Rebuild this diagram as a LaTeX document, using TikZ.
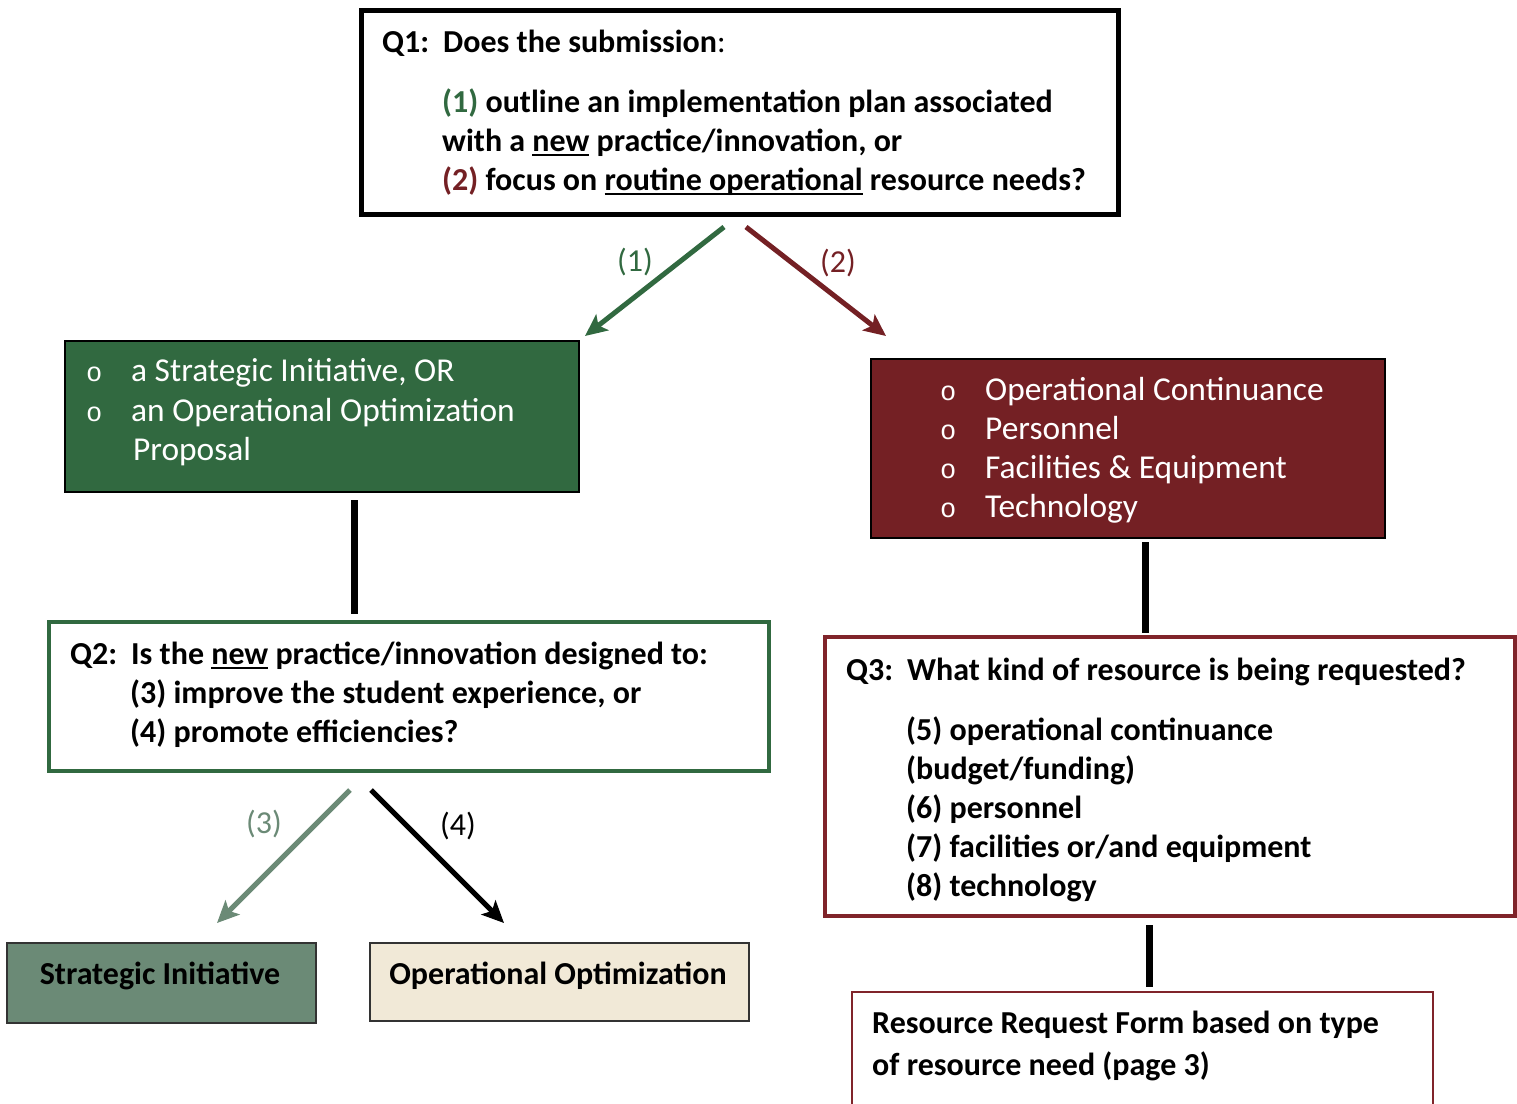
\documentclass[tikz,border=0pt]{standalone}
\usepackage{fontspec}
\setmainfont{Carlito}
\newfontfamily\bulfont{Liberation Mono}
\usetikzlibrary{arrows.meta}
\definecolor{dgreen}{RGB}{49,105,64}
\definecolor{dred}{RGB}{116,32,36}
\definecolor{bred}{RGB}{128,36,42}
\definecolor{sgreen}{RGB}{107,138,118}
\definecolor{cream}{RGB}{241,233,215}
\newcommand{\qlab}[1]{\makebox[61pt][l]{#1}}
\newcommand{\bul}{\makebox[45pt][l]{\bulfont\fontsize{27}{27}\selectfont o}}
\newcommand{\myul}[1]{\setbox0\hbox{#1}\rlap{\rule[-5pt]{\wd0}{2.2pt}}\box0\relax}
\begin{document}
\begin{tikzpicture}[x=1pt,y=-1pt,
  txt/.style={inner sep=0pt, anchor=base west, font=\fontsize{32}{39}\selectfont\bfseries},
  wtxt/.style={inner sep=0pt, anchor=base west, text=white, font=\fontsize{33.4}{39}\selectfont},
  lab/.style={inner sep=0pt, anchor=center, font=\fontsize{32}{39}\selectfont},
  box/.style={draw, anchor=north west, inner sep=0pt},
  arr/.style={line width=5pt, -{Stealth[length=22pt,width=20pt,inset=5pt]}},
  vline/.style={line width=7pt}]
\useasboundingbox (0,0) rectangle (1517,1103);

% boxes
\node[box, line width=5pt, minimum width=757pt, minimum height=204pt] (q1) at (359,8) {};
\node[box, line width=2pt, fill=dgreen, minimum width=514pt, minimum height=151pt] (gbox) at (64,340) {};
\node[box, line width=2pt, fill=dred, minimum width=514pt, minimum height=179pt] (rbox) at (870,358) {};
\node[box, line width=4pt, draw=dgreen, minimum width=720pt, minimum height=149pt] (q2) at (47,620) {};
\node[box, line width=4pt, draw=bred, minimum width=690pt, minimum height=279pt] (q3) at (823,635) {};
\node[box, line width=2pt, fill=sgreen, draw=black!80, minimum width=309pt, minimum height=80pt] (sbox) at (6,942) {};
\node[box, line width=2pt, fill=cream, draw=black!80, minimum width=379pt, minimum height=78pt] (obox) at (369,942) {};
\node[box, line width=2pt, draw=bred, minimum width=581pt, minimum height=160pt] (rrbox) at (851,991) {};

% Q1 text
\node[txt] (q1t1) at (382,52) {\qlab{Q1:}Does the submission\mdseries:};
\node[txt] (q1t2) at (442,112) {\textcolor{dgreen}{(1)} outline an implementation plan associated};
\node[txt] (q1t3) at (442,151) {with a \myul{new} practice/innovation, or};
\node[txt] (q1t4) at (442,190) {\textcolor{dred}{(2)} focus on \myul{routine operational} resource needs?};

% green box text
\node[wtxt] (g1) at (86,381) {\bul a Strategic Initiative, OR};
\node[wtxt] (g2) at (86,421) {\bul an Operational Optimization};
\node[wtxt] (g3) at (133,460) {Proposal};

% red box text
\node[wtxt] (r1) at (940,400) {\bul Operational Continuance};
\node[wtxt] (r2) at (940,439) {\bul Personnel};
\node[wtxt] (r3) at (940,478) {\bul Facilities \& Equipment};
\node[wtxt] (r4) at (940,517) {\bul Technology};

% Q2 text
\node[txt] (q2t1) at (70,664) {\qlab{Q2:}Is the \myul{new} practice/innovation designed to:};
\node[txt] (q2t2) at (130,703) {(3) improve the student experience, or};
\node[txt] (q2t3) at (130,742) {(4) promote efficiencies?};

% Q3 text
\node[txt] (q3t1) at (846,680) {\qlab{Q3:}What kind of resource is being requested?};
\node[txt] (q3t2) at (906,740) {(5) operational continuance};
\node[txt] (q3t3) at (906,779) {(budget/funding)};
\node[txt] (q3t4) at (906,818) {(6) personnel};
\node[txt] (q3t5) at (906,857) {(7) facilities or/and equipment};
\node[txt] (q3t6) at (906,896) {(8) technology};

% small boxes text
\node[txt, anchor=base] (st) at (160,984) {Strategic Initiative};
\node[txt, anchor=base] (ot) at (558,984) {Operational Optimization};

% resource request text
\node[txt] (rr1) at (872,1033) {Resource Request Form based on type};
\node[txt] (rr2) at (872,1075) {of resource need (page 3)};

% arrow coordinates
\coordinate (a1s) at (724,227);
\coordinate (a1e) at (585,336);
\coordinate (a2s) at (746,227);
\coordinate (a2e) at (886,336);
\coordinate (a3s) at (350,790);
\coordinate (a3e) at (217,923);
\coordinate (a4s) at (371,790);
\coordinate (a4e) at (504,923);
\draw[arr, dgreen] (a1s) -- (a1e);
\draw[arr, dred] (a2s) -- (a2e);
\draw[arr, sgreen] (a3s) -- (a3e);
\draw[arr, black] (a4s) -- (a4e);

\node[lab, text=dgreen] (l1) at (635,262) {(1)};
\node[lab, text=dred] (l2) at (838,263) {(2)};
\node[lab, text=sgreen] (l3) at (264,824) {(3)};
\node[lab] (l4) at (458,826) {(4)};

% vertical connectors
\coordinate (v1s) at (354,500);
\coordinate (v1e) at (354,614);
\coordinate (v2s) at (1145,542);
\coordinate (v2e) at (1145,633);
\coordinate (v3s) at (1149,925);
\coordinate (v3e) at (1149,987);
\draw[vline] (v1s) -- (v1e);
\draw[vline] (v2s) -- (v2e);
\draw[vline] (v3s) -- (v3e);
\end{tikzpicture}
\end{document}
